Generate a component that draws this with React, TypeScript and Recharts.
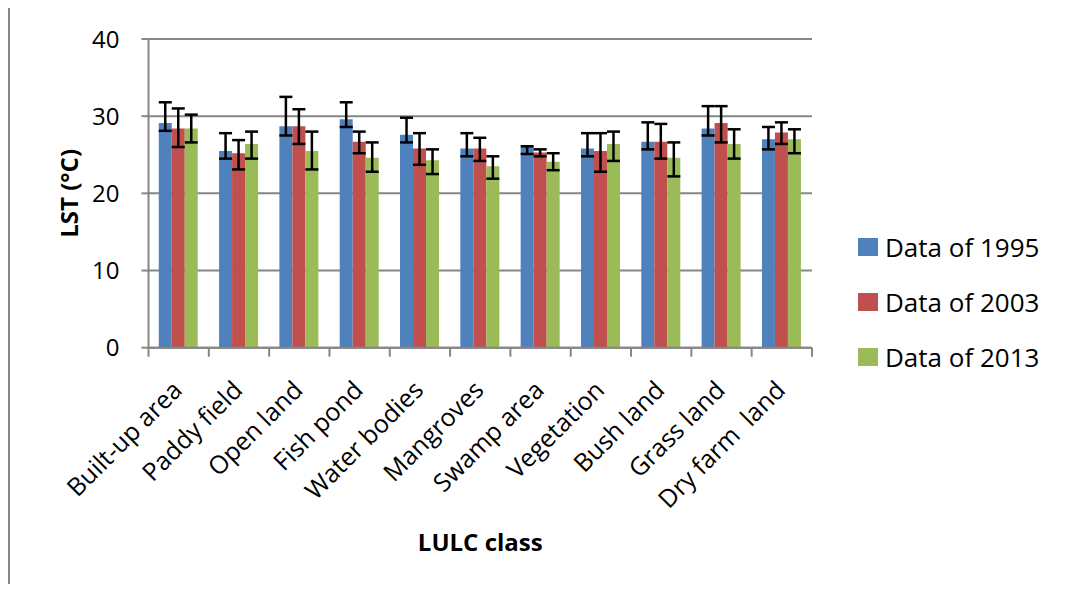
import React from 'react';
import { BarChart, Bar, XAxis, YAxis, CartesianGrid, ErrorBar, Label, Customized } from 'recharts';

const classes = [
  'Built-up area',
  'Paddy field',
  'Open land',
  'Fish pond',
  'Water bodies',
  'Mangroves',
  'Swamp area',
  'Vegetation',
  'Bush land',
  'Grass land',
  'Dry farm  land',
];

// mean LST per class (°C)
const lst1995 = [29.1, 25.5, 28.7, 29.6, 27.6, 25.8, 26.0, 25.8, 26.7, 28.4, 27.0];
const lst2003 = [28.4, 25.2, 28.7, 26.7, 25.8, 25.8, 25.3, 25.5, 26.7, 29.1, 27.9];
const lst2013 = [28.4, 26.4, 25.5, 24.6, 24.3, 23.5, 24.1, 26.4, 24.6, 26.4, 27.0];

// error bar extent below / above each mean
const err1995Low = [1.0, 1.0, 1.2, 1.0, 1.0, 1.0, 0.9, 1.0, 1.0, 0.9, 1.3];
const err1995High = [2.7, 2.3, 3.8, 2.2, 2.2, 2.0, 0.1, 2.0, 2.5, 2.9, 1.6];
const err2003Low = [2.4, 2.1, 2.3, 1.5, 2.1, 1.6, 0.5, 2.7, 2.2, 2.5, 1.5];
const err2003High = [2.6, 1.7, 2.2, 1.3, 2.0, 1.4, 0.4, 2.3, 2.3, 2.2, 1.3];
const err2013Low = [1.8, 1.9, 2.4, 1.8, 1.8, 1.6, 1.1, 2.2, 2.4, 1.9, 1.8];
const err2013High = [1.8, 1.6, 2.5, 2.0, 1.4, 1.3, 1.1, 1.6, 2.0, 1.9, 1.3];

const yTicks = [0, 10, 20, 30, 40];
const seriesNames = ['Data of 1995', 'Data of 2003', 'Data of 2013'];
const seriesColors = ['#4F81BD', '#C0504D', '#9BBB59'];

const rows = classes.map((name, i) => ({
  name,
  y1995: lst1995[i],
  y2003: lst2003[i],
  y2013: lst2013[i],
  e1995: [err1995Low[i], err1995High[i]],
  e2003: [err2003Low[i], err2003High[i]],
  e2013: [err2013Low[i], err2013High[i]],
}));

const seriesKeys = [
  { value: 'y1995', err: 'e1995' },
  { value: 'y2003', err: 'e2003' },
  { value: 'y2013', err: 'e2013' },
];

const FONT = "'Open Sans', sans-serif";
const AXIS_GREY = '#868686';

function ClassTick(props: any) {
  const { x, y, payload, index } = props;
  const half = payload && payload.offset ? payload.offset : 30.16;
  const tx = x + 5;
  const ty = y + 44;
  return (
    <g>
      <line x1={x - half} x2={x - half} y1={y} y2={y + 9} stroke={AXIS_GREY} strokeWidth={2} />
      {index === classes.length - 1 && (
        <line x1={x + half} x2={x + half} y1={y} y2={y + 9} stroke={AXIS_GREY} strokeWidth={2} />
      )}
      <text
        x={tx}
        y={ty}
        transform={`rotate(-45, ${tx}, ${ty})`}
        textAnchor="end"
        fontSize={25}
        fontFamily={FONT}
        fill="#000"
        style={{ whiteSpace: 'pre' }}
      >
        {payload.value}
      </text>
    </g>
  );
}

function YTitle(props: any) {
  const vb = props.viewBox || { x: 68, y: 39, width: 80, height: 309 };
  const cx = 68.5;
  const cy = vb.y + vb.height / 2;
  return (
    <text
      x={cx}
      y={cy}
      transform={`rotate(-90, ${cx}, ${cy})`}
      textAnchor="middle"
      dominantBaseline="central"
      fontSize={24}
      fontWeight="bold"
      fontFamily={FONT}
      fill="#000"
    >
      LST (°C)
    </text>
  );
}

function XTitle(props: any) {
  const vb = props.viewBox || { x: 148, y: 348, width: 664, height: 150 };
  return (
    <text
      x={vb.x + vb.width / 2}
      y={vb.y + 203}
      textAnchor="middle"
      fontSize={24}
      fontWeight="bold"
      fontFamily={FONT}
      fill="#000"
    >
      LULC class
    </text>
  );
}

// outer chart-area border; its right and bottom edges sit past the page edge
function Frame() {
  return <path d="M9 592 V7 H1065" fill="none" stroke={AXIS_GREY} strokeWidth={2} />;
}

export default function App() {
  return (
    <div style={{ position: 'relative', width: 1065, height: 584, margin: '-8px 0 0 -8px' }}>
      <style>{'html, body { overflow: hidden; }'}</style>
      <BarChart
        width={1065}
        height={592}
        data={rows}
        margin={{ top: 39, right: 253, bottom: 94.3, left: 68 }}
        barCategoryGap="17%"
        barGap={0}
      >
        <CartesianGrid vertical={false} stroke={AXIS_GREY} strokeWidth={2} />
        <XAxis
          dataKey="name"
          interval={0}
          height={150}
          tickSize={0}
          tickMargin={0}
          tickLine={false}
          axisLine={{ stroke: AXIS_GREY, strokeWidth: 2 }}
          tick={<ClassTick />}
        >
          <Label content={<XTitle />} />
        </XAxis>
        <YAxis
          width={80.5}
          domain={[0, 40]}
          ticks={yTicks}
          tickSize={7}
          tickMargin={22}
          axisLine={{ stroke: AXIS_GREY, strokeWidth: 2 }}
          tickLine={{ stroke: AXIS_GREY, strokeWidth: 2 }}
          tick={{ fontSize: 24, fontFamily: FONT, fill: '#000' }}
        >
          <Label content={<YTitle />} />
        </YAxis>
        {seriesKeys.map((s, i) => (
          <Bar
            key={s.value}
            dataKey={s.value}
            name={seriesNames[i]}
            fill={seriesColors[i]}
            isAnimationActive={false}
          >
            <ErrorBar
              dataKey={s.err}
              direction="y"
              width={6.5}
              stroke="#000"
              strokeWidth={2.5}
              isAnimationActive={false}
            />
          </Bar>
        ))}
        <Customized component={Frame} />
      </BarChart>
      <div style={{ position: 'absolute', left: 858, top: 219.5, fontFamily: FONT, fontSize: 26 }}>
        {seriesNames.map((name, i) => (
          <div key={name} style={{ display: 'flex', alignItems: 'center', height: 55 }}>
            <span
              style={{
                display: 'inline-block',
                width: 20,
                height: 18,
                background: seriesColors[i],
                marginRight: 7,
              }}
            />
            <span style={{ color: '#000', lineHeight: '30px' }}>{name}</span>
          </div>
        ))}
      </div>
    </div>
  );
}
